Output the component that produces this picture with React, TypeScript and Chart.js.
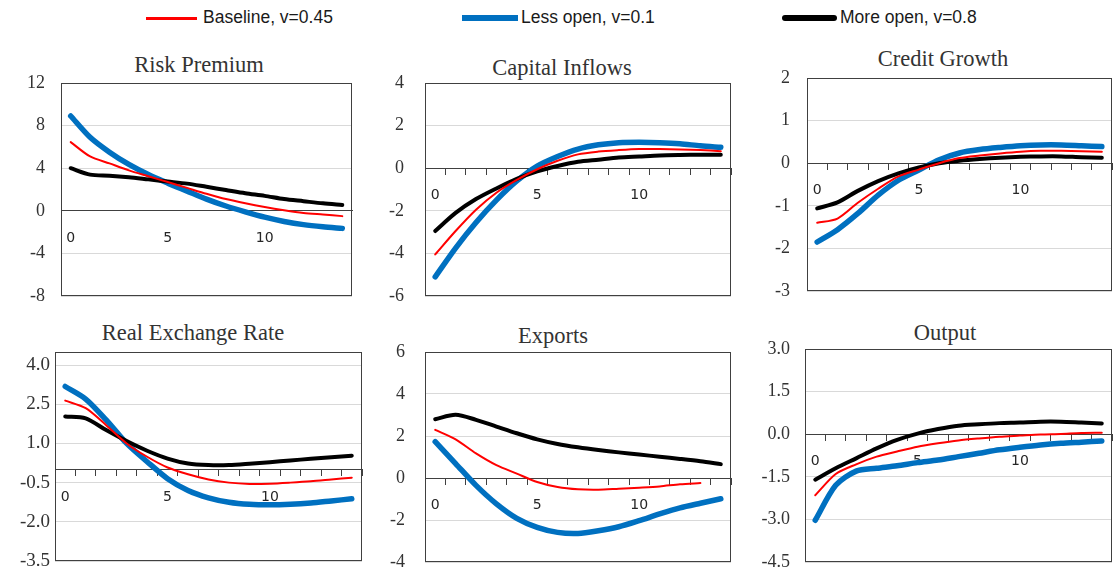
import React, { useEffect, useRef } from "react";
import { Chart, registerables } from "chart.js";

Chart.register(...registerables);

// Quarters after the shock and the horizon labels shown on the x axes
const periods = ["0", "1", "2", "3", "4", "5", "6", "7", "8", "9", "10", "11", "12", "13", "14"];
const xTickLabels = ["0", "5", "10"];

// Scenario names (legend)
const scenarioNames = ["Baseline, v=0.45", "Less open, v=0.1", "More open, v=0.8"];

// Risk Premium
const riskTicks = [-8, -4, 0, 4, 8, 12];
const riskBaseline = [6.45, 5.1, 4.45, 3.8, 3.25, 2.7, 2.15, 1.6, 1.1, 0.7, 0.35, 0.05, -0.2, -0.35, -0.5];
const riskLessOpen = [8.9, 6.9, 5.5, 4.35, 3.4, 2.6, 1.85, 1.1, 0.45, -0.1, -0.6, -1.0, -1.3, -1.5, -1.65];
const riskMoreOpen = [4.0, 3.4, 3.3, 3.15, 2.95, 2.75, 2.55, 2.25, 1.95, 1.65, 1.4, 1.1, 0.9, 0.7, 0.55];

// Capital Inflows
const inflowTicks = [-6, -4, -2, 0, 2, 4];
const inflowBaseline = [-4.05, -2.95, -1.95, -1.15, -0.55, -0.05, 0.35, 0.65, 0.78, 0.85, 0.9, 0.9, 0.88, 0.85, 0.8];
const inflowLessOpen = [-5.1, -3.75, -2.55, -1.5, -0.6, 0.1, 0.55, 0.9, 1.1, 1.2, 1.22, 1.2, 1.15, 1.05, 0.98];
const inflowMoreOpen = [-2.95, -2.1, -1.45, -0.95, -0.5, -0.15, 0.1, 0.3, 0.4, 0.5, 0.55, 0.6, 0.62, 0.63, 0.63];

// Credit Growth
const creditTicks = [-3, -2, -1, 0, 1, 2];
const creditBaseline = [-1.4, -1.3, -0.93, -0.6, -0.31, -0.15, 0.0, 0.12, 0.18, 0.23, 0.27, 0.29, 0.29, 0.28, 0.27];
const creditLessOpen = [-1.85, -1.56, -1.18, -0.75, -0.4, -0.16, 0.08, 0.24, 0.32, 0.37, 0.41, 0.43, 0.43, 0.41, 0.39];
const creditMoreOpen = [-1.06, -0.92, -0.65, -0.42, -0.24, -0.1, 0.0, 0.06, 0.1, 0.13, 0.15, 0.16, 0.16, 0.14, 0.13];

// Real Exchange Rate
const rerTicks = [-3.5, -2.0, -0.5, 1.0, 2.5, 4.0];
const rerBaseline = [2.64, 2.35, 1.7, 1.0, 0.49, 0.08, -0.18, -0.38, -0.5, -0.55, -0.54, -0.5, -0.45, -0.38, -0.31];
const rerLessOpen = [3.18, 2.7, 1.9, 1.0, 0.3, -0.35, -0.8, -1.08, -1.25, -1.33, -1.35, -1.33, -1.28, -1.2, -1.12];
const rerMoreOpen = [2.03, 1.96, 1.51, 1.09, 0.72, 0.42, 0.23, 0.17, 0.17, 0.22, 0.28, 0.35, 0.41, 0.47, 0.53];

// Exports
const exportTicks = [-4, -2, 0, 2, 4, 6];
const exportBaseline = [2.29, 1.84, 1.17, 0.61, 0.21, -0.19, -0.43, -0.54, -0.56, -0.51, -0.46, -0.4, -0.3, -0.24, null];
const exportLessOpen = [1.73, 0.69, -0.35, -1.23, -1.92, -2.35, -2.59, -2.64, -2.51, -2.32, -2.03, -1.71, -1.42, -1.2, -0.99];
const exportMoreOpen = [2.8, 3.01, 2.77, 2.45, 2.13, 1.84, 1.62, 1.46, 1.33, 1.22, 1.12, 1.01, 0.91, 0.8, 0.66];

// Output
const outputTicks = [-4.5, -3.0, -1.5, 0.0, 1.5, 3.0];
const outputBaseline = [-2.15, -1.4, -1.06, -0.79, -0.61, -0.44, -0.32, -0.22, -0.15, -0.09, -0.05, -0.01, 0.01, 0.04, 0.05];
const outputLessOpen = [-3.03, -1.8, -1.3, -1.2, -1.11, -1.0, -0.91, -0.79, -0.67, -0.55, -0.46, -0.38, -0.32, -0.28, -0.24];
const outputMoreOpen = [-1.6, -1.2, -0.85, -0.5, -0.2, 0.02, 0.18, 0.3, 0.35, 0.39, 0.41, 0.44, 0.44, 0.41, 0.38];

// Line styles: baseline on top, then more open, then less open underneath
const lineStyles = [
  { color: "#FF0000", width: 2, order: 0, legendThickness: 3 },
  { color: "#0070C0", width: 5.5, order: 2, legendThickness: 6 },
  { color: "#000000", width: 4, order: 1, legendThickness: 6 },
];

type Series = (number | null)[];

type PanelSpec = {
  title: string;
  ticks: number[];
  min: number;
  max: number;
  decimals: number;
  series: Series[];
  box: [number, number, number, number]; // left, top, right, bottom of plot frame
  titleCenter: [number, number];
  tickMarks: boolean;
  labelGap: number;
  yFont: number;
};

const panels: PanelSpec[] = [
  {
    title: "Risk Premium", ticks: riskTicks, min: -8, max: 12, decimals: 0,
    series: [riskBaseline, riskLessOpen, riskMoreOpen],
    box: [61, 83, 352, 296], titleCenter: [199, 65], tickMarks: false, labelGap: 16, yFont: 18,
  },
  {
    title: "Capital Inflows", ticks: inflowTicks, min: -6, max: 4, decimals: 0,
    series: [inflowBaseline, inflowLessOpen, inflowMoreOpen],
    box: [425, 83, 731, 296], titleCenter: [562, 68], tickMarks: true, labelGap: 21, yFont: 18,
  },
  {
    title: "Credit Growth", ticks: creditTicks, min: -3, max: 2, decimals: 0,
    series: [creditBaseline, creditLessOpen, creditMoreOpen],
    box: [807, 78, 1112, 291], titleCenter: [943, 59], tickMarks: true, labelGap: 17, yFont: 18,
  },
  {
    title: "Real Exchange Rate", ticks: rerTicks, min: -3.5, max: 4.5, decimals: 1,
    series: [rerBaseline, rerLessOpen, rerMoreOpen],
    box: [55, 352, 362, 561], titleCenter: [193, 333], tickMarks: true, labelGap: 5, yFont: 19,
  },
  {
    title: "Exports", ticks: exportTicks, min: -4, max: 6, decimals: 0,
    series: [exportBaseline, exportLessOpen, exportMoreOpen],
    box: [425, 352, 731, 562], titleCenter: [553, 336], tickMarks: true, labelGap: 20, yFont: 18,
  },
  {
    title: "Output", ticks: outputTicks, min: -4.5, max: 3.0, decimals: 1,
    series: [outputBaseline, outputLessOpen, outputMoreOpen],
    box: [805, 349, 1112, 562], titleCenter: [945, 333], tickMarks: true, labelGap: 15, yFont: 18,
  },
];

const AXIS_W = 60;
const PAD_T = 16;
const PAD_R = 8;
const PAD_B = 16;

// Draws the dark frame around the plot area
const framePlugin = {
  id: "plotFrame",
  beforeDatasetsDraw(chart: any) {
    const { ctx, chartArea: a } = chart;
    ctx.save();
    ctx.strokeStyle = "#404040";
    ctx.lineWidth = 1;
    const l = Math.round(a.left) + 0.5;
    const t = Math.round(a.top) + 0.5;
    const r = Math.round(a.right) - 0.5;
    const b = Math.round(a.bottom) - 0.5;
    ctx.strokeRect(l, t, r - l, b - t);
    ctx.restore();
  },
};

function Panel({ spec }: { spec: PanelSpec }) {
  const ref = useRef<HTMLCanvasElement | null>(null);
  const [l, t, r, b] = spec.box;
  const width = AXIS_W + (r - l) + PAD_R;
  const height = PAD_T + (b - t) + PAD_B;

  useEffect(() => {
    if (!ref.current) return;
    const chart = new Chart(ref.current, {
      type: "line",
      data: {
        labels: periods,
        datasets: spec.series.map((values, i) => ({
          label: scenarioNames[i],
          data: values,
          borderColor: lineStyles[i].color,
          backgroundColor: lineStyles[i].color,
          borderWidth: lineStyles[i].width,
          order: lineStyles[i].order,
          tension: 0.28,
          pointRadius: 0,
          borderCapStyle: "round",
          borderJoinStyle: "round",
          fill: false,
        })),
      },
      options: {
        responsive: false,
        maintainAspectRatio: false,
        animation: false,
        events: [],
        layout: { padding: { left: 0, top: PAD_T, right: PAD_R, bottom: PAD_B } },
        plugins: {
          legend: { display: false },
          tooltip: { enabled: false },
          title: { display: false },
        },
        scales: {
          x: {
            type: "category",
            position: { y: 0 },
            offset: true,
            grid: {
              offset: true,
              drawOnChartArea: false,
              drawTicks: spec.tickMarks,
              tickLength: 6,
              color: "#404040",
              lineWidth: 1,
            },
            border: { display: true, color: "#404040", width: 1 },
            ticks: {
              autoSkip: false,
              maxRotation: 0,
              minRotation: 0,
              padding: spec.tickMarks ? 13 : 19,
              color: "#262626",
              font: { family: "DejaVu Sans", size: 14 },
              callback: (_v: any, i: number) => (xTickLabels.includes(periods[i]) ? periods[i] : ""),
            },
            afterFit: (scale: any) => {
              scale.paddingLeft = 0;
              scale.paddingRight = 0;
              scale.paddingTop = 0;
              scale.paddingBottom = 0;
            },
          },
          y: {
            type: "linear",
            min: spec.min,
            max: spec.max,
            afterBuildTicks: (scale: any) => {
              scale.ticks = spec.ticks.map((v) => ({ value: v }));
            },
            afterFit: (scale: any) => {
              scale.width = AXIS_W;
              scale.paddingTop = 0;
              scale.paddingBottom = 0;
            },
            grid: { color: "#d9d9d9", lineWidth: 1, drawTicks: false },
            border: { display: false },
            ticks: {
              padding: spec.labelGap,
              color: "#333333",
              font: { family: "Liberation Serif", size: spec.yFont },
              callback: (v: any) => Number(v).toFixed(spec.decimals),
            },
          },
        },
      },
      plugins: [framePlugin],
    } as any);
    return () => chart.destroy();
  }, [spec]);

  return (
    <>
      <div
        style={{
          position: "absolute",
          left: spec.titleCenter[0],
          top: spec.titleCenter[1],
          transform: "translate(-50%, -50%)",
          fontFamily: "'Liberation Serif', serif",
          fontSize: 22.5,
          lineHeight: 1,
          color: "#333",
          whiteSpace: "nowrap",
        }}
      >
        {spec.title}
      </div>
      <canvas
        ref={ref}
        width={width}
        height={height}
        style={{ position: "absolute", left: l - AXIS_W, top: t - PAD_T, width, height }}
      />
    </>
  );
}

// Legend entries: swatch start/end and text start, on one row
const legendLayout = [
  { x1: 146, x2: 197, tx: 203 },
  { x1: 462, x2: 518, tx: 521 },
  { x1: 782, x2: 837, tx: 840 },
];

export default function App() {
  return (
    <div
      style={{
        position: "absolute",
        left: 0,
        top: 0,
        width: 1113,
        height: 574,
        background: "#fff",
        overflow: "hidden",
      }}
    >
      {scenarioNames.map((name, i) => {
        const s = lineStyles[i];
        const g = legendLayout[i];
        return (
          <React.Fragment key={name}>
            <div
              style={{
                position: "absolute",
                left: g.x1,
                top: 18 - s.legendThickness / 2,
                width: g.x2 - g.x1,
                height: s.legendThickness,
                background: s.color,
                borderRadius: i === 2 ? 3 : 0,
              }}
            />
            <div
              style={{
                position: "absolute",
                left: g.tx,
                top: 18,
                transform: "translateY(-50%)",
                fontFamily: "'Liberation Sans', sans-serif",
                fontSize: 17.5,
                lineHeight: 1,
                color: "#1a1a1a",
                whiteSpace: "nowrap",
              }}
            >
              {name}
            </div>
          </React.Fragment>
        );
      })}
      {panels.map((p) => (
        <Panel key={p.title} spec={p} />
      ))}
    </div>
  );
}
